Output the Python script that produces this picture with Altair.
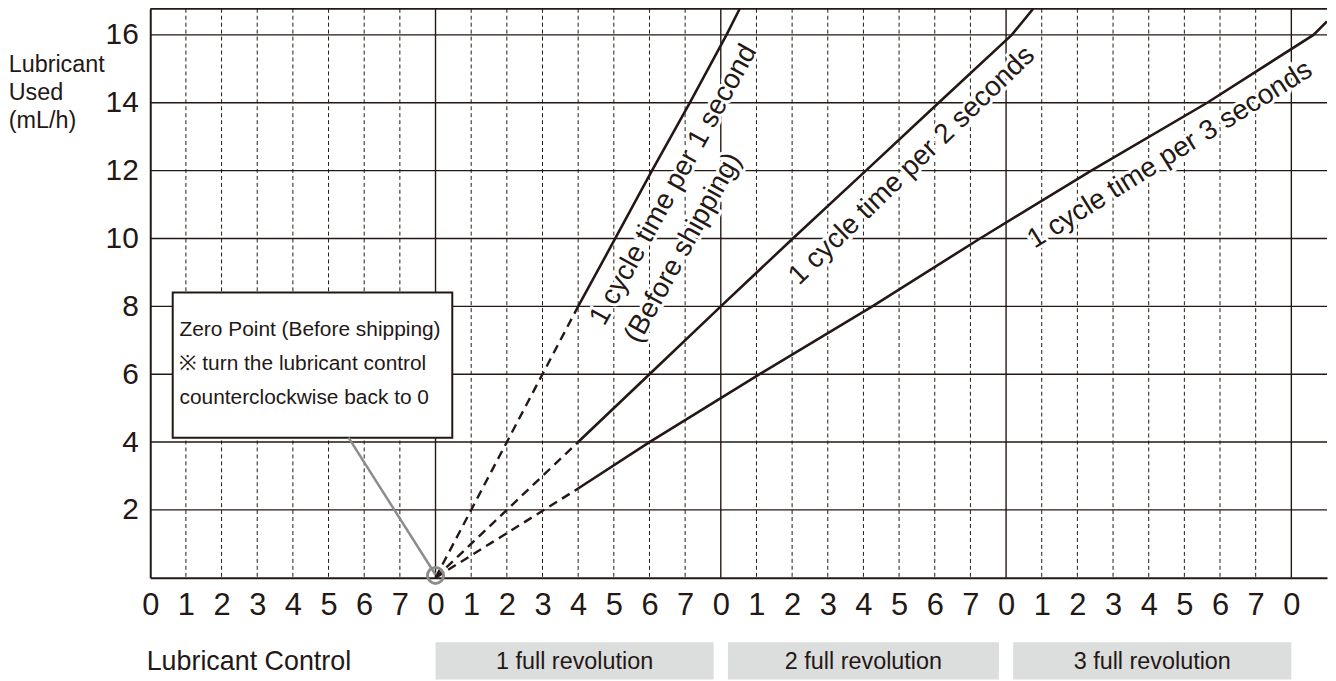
import altair as alt
import pandas as pd

INK = "#231815"
FONT = "Liberation Sans"

# ---- data ----
x_ticks = list(range(33))                 # lubricant control positions (8 per revolution)
y_ticks = [2, 4, 6, 8, 10, 12, 14, 16]
major_x = [8, 16, 24, 32]
minor_x = [i for i in range(1, 33) if i % 8 != 0]

zero_x, zero_y = 8, 0

line1_x = [12, 13.04, 14.07, 15.13, 16.16, 16.53]
line1_y = [8, 10, 12, 14, 16, 16.77]
line2_x = [12, 14, 16, 18.02, 20.07, 22.11, 24.16, 24.76]
line2_y = [4, 6, 8, 10, 12, 14, 16, 16.77]
line3_x = [12, 14, 17.09, 20.25, 23.27, 26.39, 29.64, 32.62, 33.0]
line3_y = [2.63, 4, 6, 8, 10, 12, 14, 16, 16.4]

curve_labels = ["1 cycle time per 1 second", "(Before shipping)",
                "1 cycle time per 2 seconds", "1 cycle time per 3 seconds"]
curve_label_x = [14.68, 14.95, 21.36, 28.6]
curve_label_y = [11.58, 9.72, 12.14, 12.46]
curve_label_angle = [299, 299, 316, 328]

rev_labels = ["1 full revolution", "2 full revolution", "3 full revolution"]
rev_x0 = [8.0, 16.2, 24.2]
rev_x1 = [15.8, 23.8, 32.0]

note_lines = ["Zero Point (Before shipping)",
              "\u203b turn the lubricant control",
              "counterclockwise back to 0"]
note_line_y = [7.12, 6.11, 5.13]

ylabel_lines = ["Lubricant", "Used", "(mL/h)"]
ylabel_y = [14.9, 14.08, 13.25]

XD = [0, 33]
YD = [0, 16.77]

x_axis = alt.Axis(values=x_ticks, labelExpr="'' + (datum.value % 8)", ticks=False, grid=False,
                  domainColor=INK, domainWidth=2, labelFontSize=31, labelPadding=13,
                  labelColor=INK, labelFont=FONT, title=None, labelFlush=False,
                  labelOverlap=False, labelAngle=0)
y_axis = alt.Axis(values=y_ticks, ticks=False, grid=False, domainColor=INK, domainWidth=2,
                  labelFontSize=30, labelPadding=12, labelColor=INK, labelFont=FONT,
                  title=None, labelOverlap=False)


def X(f):
    return alt.X(f, type="quantitative",
                 scale=alt.Scale(domain=XD, nice=False, zero=False), axis=x_axis)


def Y(f):
    return alt.Y(f, type="quantitative",
                 scale=alt.Scale(domain=YD, nice=False, zero=False), axis=y_axis)


# ---- tables ----
hgrid = pd.DataFrame({"y": y_ticks})
vmaj = pd.DataFrame({"x": major_x})
vmin = pd.DataFrame({"x": minor_x})

solid_rows = []
for name, xs, ys in [("1s", line1_x, line1_y), ("2s", line2_x, line2_y), ("3s", line3_x, line3_y)]:
    for i, (a, b) in enumerate(zip(xs, ys)):
        solid_rows.append({"series": name, "x": a, "y": b, "o": i})
solid = pd.DataFrame(solid_rows)

dash_rows = []
for name, xs, ys in [("1s", line1_x, line1_y), ("2s", line2_x, line2_y), ("3s", line3_x, line3_y)]:
    dash_rows.append({"series": name, "x": zero_x, "y": zero_y, "o": 0})
    dash_rows.append({"series": name, "x": xs[0], "y": ys[0], "o": 1})
dashed = pd.DataFrame(dash_rows)

clabels = pd.DataFrame({"t": curve_labels, "x": curve_label_x, "y": curve_label_y,
                        "a": curve_label_angle})
revs = pd.DataFrame({"t": rev_labels, "x0": rev_x0, "x1": rev_x1,
                     "xc": [(a + b) / 2 for a, b in zip(rev_x0, rev_x1)],
                     "y0": [-1.9] * 3, "y1": [-3.0] * 3, "yc": [-2.47] * 3})
note_box = pd.DataFrame({"x0": [0.63], "x1": [8.47], "y0": [8.41], "y1": [4.13]})
note_txt = pd.DataFrame({"t": note_lines, "x": [0.82] * 3, "y": note_line_y})
leader = pd.DataFrame({"x": [5.56, zero_x], "y": [4.13, 0.09], "o": [0, 1]})
zero_pt = pd.DataFrame({"x": [zero_x], "y": [0.07]})
ylab = pd.DataFrame({"t": ylabel_lines, "x": [-3.97] * 3, "y": ylabel_y})
xlab = pd.DataFrame({"t": ["Lubricant Control"], "x": [-0.1], "y": [-2.47]})

# ---- layers ----
hg = alt.Chart(hgrid).mark_rule(color=INK, strokeWidth=1.4).encode(y=Y("y"))
vma = alt.Chart(vmaj).mark_rule(color=INK, strokeWidth=1.4).encode(x=X("x"))
vmi = alt.Chart(vmin).mark_rule(color=INK, strokeWidth=1, strokeDash=[4, 3]).encode(x=X("x"))
top = alt.Chart(pd.DataFrame({"y": [YD[1]]})).mark_rule(color=INK, strokeWidth=2).encode(y=Y("y"))

boxes = alt.Chart(revs).mark_rect(color="#dcdddd").encode(
    x=X("x0"), x2=alt.X2("x1"), y=Y("y0"), y2=alt.Y2("y1"))
box_txt = alt.Chart(revs).mark_text(font=FONT, fontSize=23.5, color=INK, baseline="middle",
                                    align="center").encode(
    x=X("xc"), y=Y("yc"), text="t:N")

dash_lines = alt.Chart(dashed).mark_line(color=INK, strokeWidth=2.4, strokeDash=[9, 6],
                                         clip=True).encode(
    x=X("x"), y=Y("y"), detail="series:N", order="o:Q")
solid_lines = alt.Chart(solid).mark_line(color=INK, strokeWidth=2.6, clip=True).encode(
    x=X("x"), y=Y("y"), detail="series:N", order="o:Q")

halo = alt.Chart(clabels).mark_text(font=FONT, fontSize=28, color="white", stroke="white",
                                    strokeWidth=6, align="center", baseline="middle").encode(
    x=X("x"), y=Y("y"), text="t:N", angle=alt.Angle("a:Q", scale=None))
ctext = alt.Chart(clabels).mark_text(font=FONT, fontSize=28, color=INK, align="center",
                                     baseline="middle").encode(
    x=X("x"), y=Y("y"), text="t:N", angle=alt.Angle("a:Q", scale=None))

nbox = alt.Chart(note_box).mark_rect(fill="white", stroke=INK, strokeWidth=2).encode(
    x=X("x0"), x2=alt.X2("x1"), y=Y("y0"), y2=alt.Y2("y1"))
ntext = alt.Chart(note_txt).mark_text(font=FONT, fontSize=21, color=INK, align="left",
                                      baseline="alphabetic").encode(
    x=X("x"), y=Y("y"), text="t:N")
lead = alt.Chart(leader).mark_line(color="#8c8c8c", strokeWidth=2.5).encode(
    x=X("x"), y=Y("y"), order="o:Q")
zp = alt.Chart(zero_pt).mark_point(shape="circle", size=260, filled=False, color="#8c8c8c",
                                   strokeWidth=3, opacity=1).encode(
    x=X("x"), y=Y("y"))

yl = alt.Chart(ylab).mark_text(font=FONT, fontSize=23.5, color=INK, align="left",
                               baseline="alphabetic").encode(
    x=X("x"), y=Y("y"), text="t:N")
xl = alt.Chart(xlab).mark_text(font=FONT, fontSize=27, color=INK, align="left",
                               baseline="middle").encode(
    x=X("x"), y=Y("y"), text="t:N")

chart = alt.layer(
    hg, vma, vmi, top, boxes, box_txt, dash_lines, solid_lines, halo, ctext,
    nbox, ntext, lead, zp, yl, xl
).properties(
    width=1183, height=572, padding={"top": -2, "left": 0, "right": 0, "bottom": 0},
    background="white"
).configure_view(stroke=None)

chart.save("out.html", embed_options={"renderer": "svg", "actions": False})
